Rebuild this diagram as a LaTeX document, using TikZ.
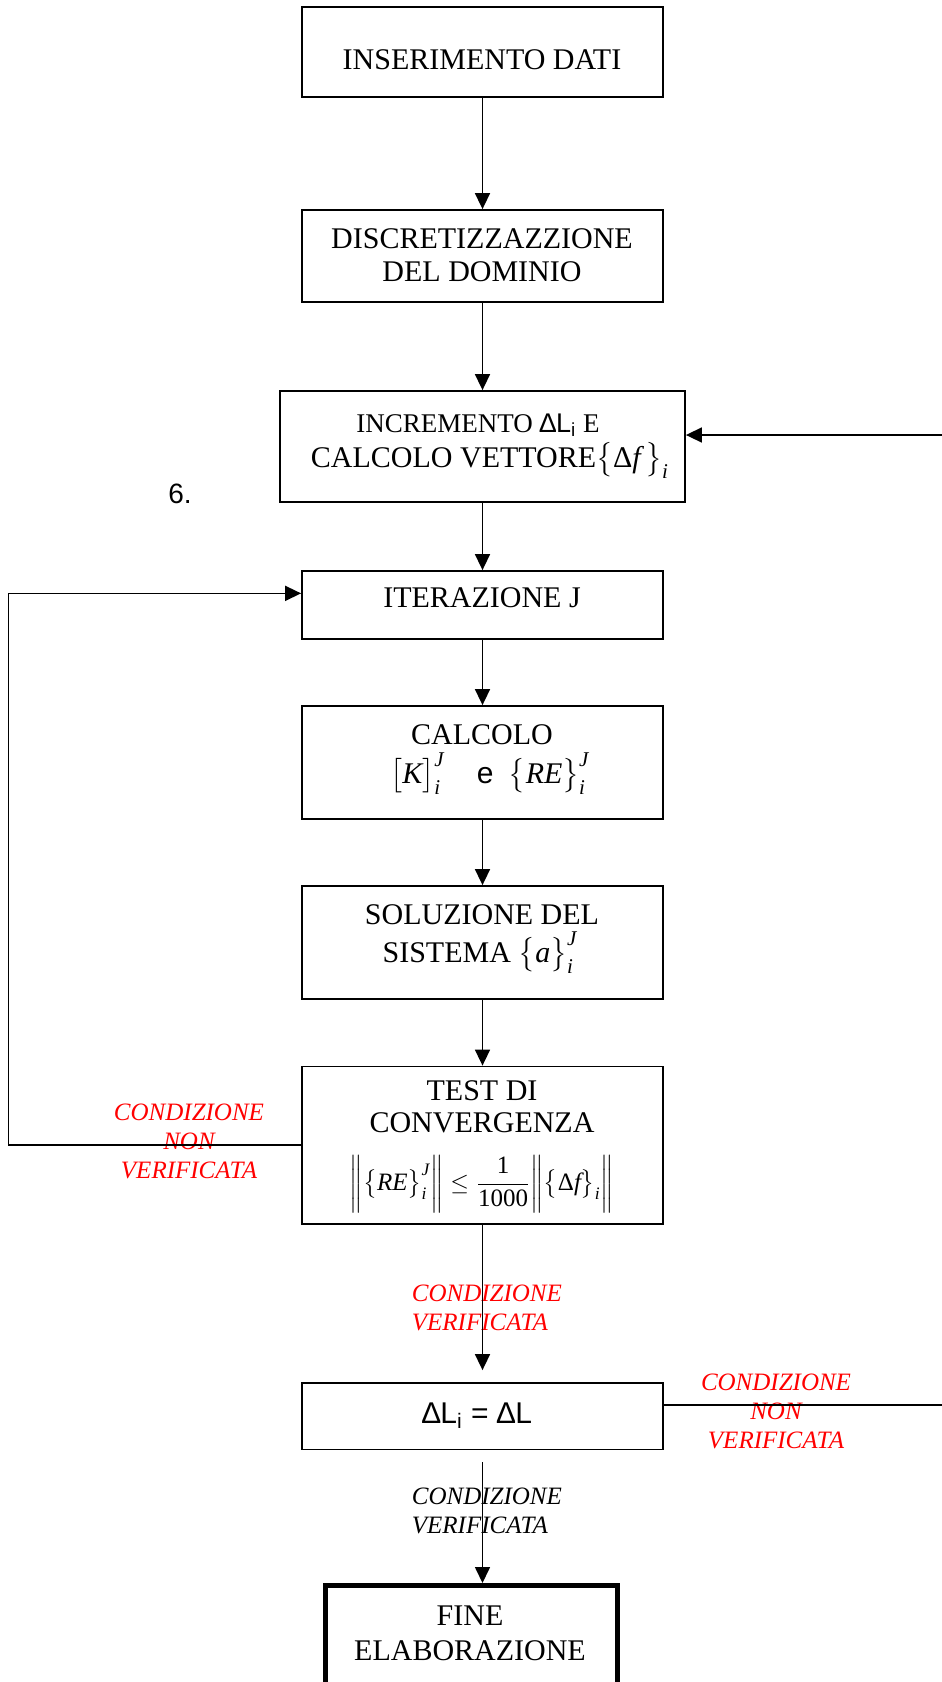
\documentclass[tikz,border=0pt]{standalone}
\usepackage{amsmath}
\usepackage{fontspec}
\setmainfont{Liberation Serif}
\newfontfamily\arial{Liberation Sans}
\usetikzlibrary{arrows.meta}
\tikzset{
  blocco/.style={draw, line width=0.9pt, minimum width=180.5pt},
  testo/.style={anchor=base, inner sep=0pt, font=\fontsize{15}{22.6}\selectfont},
  cond/.style={inner sep=0pt, text=red, font=\fontsize{12.5}{14.5}\selectfont\itshape},
  freccia/.style={line width=0.8pt, -{Triangle[length=8pt,width=7.5pt]}},
}
\newcommand{\DL}{{\arial ∆L\textsubscript{i}}}
\newcommand{\vi}[1]{\textit{#1}}

\begin{document}
\begin{tikzpicture}[x=0.5pt,y=-0.5pt]
  \useasboundingbox (0,0) rectangle (942,1682);
  \clip (0,0) rectangle (942,1682);
  %blocchi
  \node[blocco, minimum height=45pt] at (482.5,52.3) (dati) {};
  \node[blocco, minimum height=45.85pt] at (482.5,255.85) (discr) {};
  \node[blocco, minimum width=202.5pt, minimum height=55.5pt] at (482.5,446.5) (incr) {};
  \node[blocco, minimum height=33.85pt] at (482.5,604.85) (iter) {};
  \node[blocco, minimum height=56.3pt] at (482.5,762.3) (calc) {};
  \node[blocco, minimum height=56.5pt] at (482.5,942.5) (sol) {};
  \node[blocco, minimum height=78.75pt] at (482.5,1145.25) (test) {};
  \node[blocco, minimum height=33.25pt] at (482.5,1416.25) (dl) {};
  \node[blocco, line width=2.5pt, minimum width=146.25pt, minimum height=90pt, anchor=north] at (471.25,1583) (fine) {};
  %testi dei blocchi
  \node[testo] at (482,69) (dati1) {INSERIMENTO DATI};
  \node[testo] at (482,248) (discr1) {DISCRETIZZAZZIONE};
  \node[testo] at (482,281) (discr2) {DEL DOMINIO};
  \node[testo, font=\fontsize{13.5}{16}\selectfont] at (478,432) (incr1) {INCREMENTO \DL{} E};
  \node[testo] at (490,467) (incr2) {CALCOLO VETTORE$\bigl\{\text{Δ}\vi{f}\,\bigr\}_{\vi{i}}$};
  \node[testo] at (482,607) (iter1) {ITERAZIONE J};
  \node[testo] at (482,744) (calc1) {CALCOLO};
  \node[testo] at (490,783) (calc2) {$\bigl[\vi{K}\bigr]_{\vi{i}}^{\vi{J}}$\hspace{16pt}{\arial e}\hspace{4pt} $\bigl\{\vi{RE}\bigr\}_{\vi{i}}^{\vi{J}}$};
  \node[testo] at (482,924) (sol1) {SOLUZIONE DEL};
  \node[testo] at (480,962) (sol2) {SISTEMA $\bigl\{\vi{a}\bigr\}_{\vi{i}}^{\vi{J}}$};
  \node[testo] at (482,1100) (test1) {TEST DI};
  \node[testo] at (482,1132) (test2) {CONVERGENZA};
  \node[testo, font=\fontsize{12.5}{14}\selectfont] at (482,1190) (test3) {$\bigg\|\bigl\{\vi{RE}\bigr\}_{\vi{i}}^{\vi{J}}\bigg\|\le\dfrac{\text{1}}{\text{1000}}\bigg\|\bigl\{\text{Δ}\vi{f}\bigr\}_{\vi{i}}\bigg\|$};
  \node[testo, font=\arial\fontsize{15}{17}\selectfont] at (477,1423) (dl1) {∆L\textsubscript{i} = ∆L};
  \node[testo] at (470,1625) (fine1) {FINE};
  \node[testo] at (470,1660) (fine2) {ELABORAZIONE};
  \node[testo, font=\arial\fontsize{14}{16}\selectfont, anchor=base west] at (168,503) (sei) {6.};
  %condizioni
  \node[cond, align=center, anchor=north] at (189,1104) (nonver1) {CONDIZIONE\\NON\\VERIFICATA};
  \node[cond, align=left, anchor=north west] at (411.5,1285) (ver1) {CONDIZIONE\\VERIFICATA};
  \node[cond, align=center, anchor=north] at (776,1374) (nonver2) {CONDIZIONE\\NON\\VERIFICATA};
  \node[cond, text=black, align=left, anchor=north west] at (411.5,1487.5) (ver2) {CONDIZIONE\\VERIFICATA};
  %frecce
  \coordinate (sx) at (8.5,0);
  \coordinate (dx) at (980,0);
  \draw[freccia] (dati) -- (discr);
  \draw[freccia] (discr) -- (incr);
  \draw[freccia] (incr) -- (iter);
  \draw[freccia] (iter) -- (calc);
  \draw[freccia] (calc) -- (sol);
  \draw[freccia] (sol) -- (test);
  \draw[freccia, shorten >=6pt] (test) -- (dl);
  \draw[freccia, shorten <=6pt] (dl.south) -- (dl.south |- fine.north);
  %ciclo iterazioni
  \draw[freccia] (test.west) -- (test.west -| sx) |- ([yshift=5.75pt]iter.west);
  %ciclo incrementi
  \draw[freccia] ([yshift=5.75pt]dl.east) -- ([yshift=5.75pt]dl.east -| dx) |- ([yshift=5.75pt]incr.east);
\end{tikzpicture}
\end{document}
